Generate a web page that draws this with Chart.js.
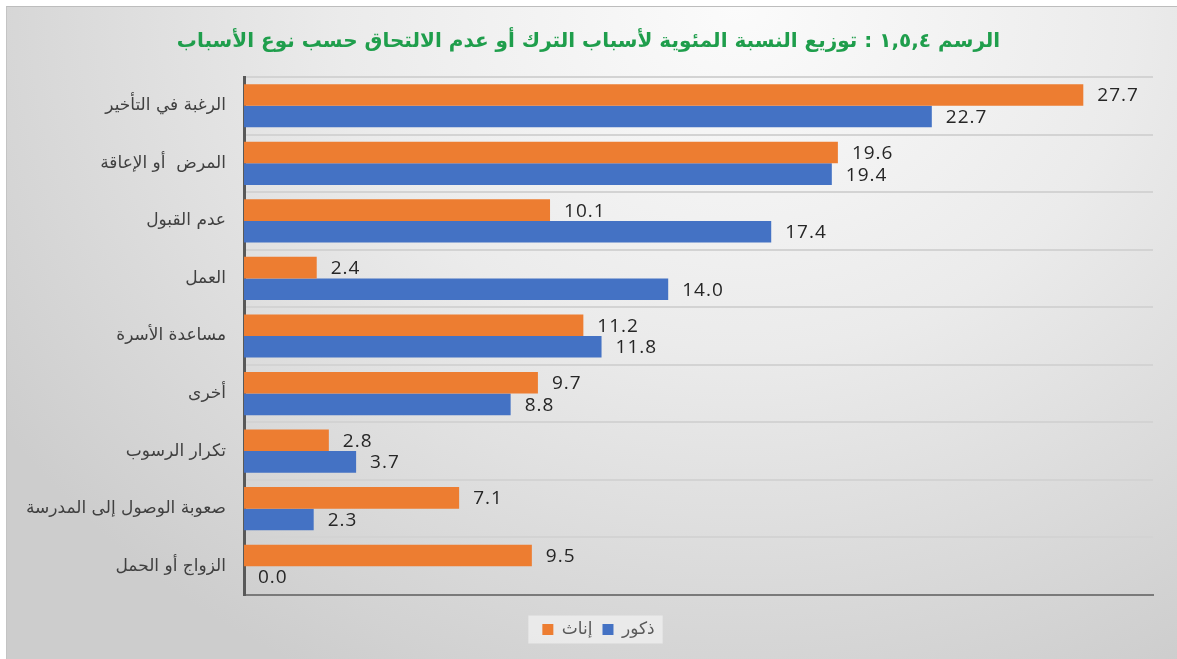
<!DOCTYPE html>
<html>
<head>
<meta charset="utf-8">
<script src="https://cdn.jsdelivr.net/npm/chart.js@4/dist/chart.umd.min.js"></script>
<style>
  html, body { margin:0; padding:0; background:#fff; width:1177px; height:659px; overflow:hidden; }
  #frame {
    position:absolute; left:6px; top:6px; width:1180px; height:660px;
    border-top:1px solid #bdbdbd; border-left:1px solid #c4c4c4;
    background: radial-gradient(ellipse 75% 115% at 62% 0%, #fbfbfb 0%, #ebebeb 45%, #cdcdcd 100%);
  }
  #chart { position:absolute; left:0; top:0; direction:rtl; }
</style>
</head>
<body>
<div id="frame"></div>
<canvas id="chart" width="1177" height="659"></canvas>
<script>
// chart data
const chartTitle = 'الرسم ١,٥,٤ : توزيع النسبة المئوية لأسباب الترك أو عدم الالتحاق حسب نوع الأسباب'
const reasons = [
  'الرغبة في التأخير',
  'المرض  أو الإعاقة',
  'عدم القبول',
  'العمل',
  'مساعدة الأسرة',
  'أخرى',
  'تكرار الرسوب',
  'صعوبة الوصول إلى المدرسة',
  'الزواج أو الحمل'
]
const females = [27.7, 19.6, 10.1, 2.4, 11.2, 9.7, 2.8, 7.1, 9.5]
const males   = [22.7, 19.4, 17.4, 14.0, 11.8, 8.8, 3.7, 2.3, 0.0]
const seriesNames = ['إناث', 'ذكور']
const axisMax = 30

// value labels next to bar ends
const valueLabels = {
  id:'valueLabels',
  afterDatasetsDraw(chart){
    const ctx = chart.ctx
    ctx.save()
    ctx.font = '19px "Open Sans"'
    ctx.fillStyle = '#262626'
    ctx.textBaseline = 'middle'
    ctx.textAlign = 'left'
    ctx.direction = 'ltr'
    try { ctx.letterSpacing = '1px' } catch(e) {}
    chart.data.datasets.forEach((ds, i) => {
      chart.getDatasetMeta(i).data.forEach((bar, j) => {
        ctx.fillText(ds.data[j].toFixed(1), bar.x + 14, bar.y + 1)
      })
    })
    ctx.restore()
  }
}

// legend sits a little right of centre in the original
const legendShift = {
  id:'legendShift',
  afterLayout(chart){
    if(!chart.legend) return
    chart.legend.left += 10
    chart.legend.right += 10
  }
}

// lighter box behind the legend
const legendBox = {
  id:'legendBox',
  beforeDraw(chart){
    const boxes = chart.legend && chart.legend.legendHitBoxes
    if(!boxes || !boxes.length) return
    const l = Math.min(...boxes.map(b => b.left)) - 14
    const r = Math.max(...boxes.map(b => b.left + b.width)) + 8
    const cy = boxes[0].top + boxes[0].height / 2
    const ctx = chart.ctx
    ctx.save()
    ctx.fillStyle = 'rgba(240,240,240,0.75)'
    ctx.fillRect(l, cy - 14, r - l, 28)
    ctx.restore()
  }
}

try {
  new Chart(document.getElementById('chart'), {
    type:'bar',
    data:{
      labels: reasons,
      datasets:[
        {label:seriesNames[0], data:females, backgroundColor:'#ED7D31', borderWidth:0, categoryPercentage:0.75, barPercentage:1.0},
        {label:seriesNames[1], data:males, backgroundColor:'#4472C4', borderWidth:0, categoryPercentage:0.75, barPercentage:1.0}
      ]
    },
    options:{
      indexAxis:'y',
      responsive:false,
      animation:false,
      layout:{padding:{left:24, right:24, top:0, bottom:11}},
      scales:{
        x:{
          min:0, max:axisMax,
          ticks:{display:false},
          grid:{display:false},
          border:{display:true, color:'#7a7a7a', width:2},
          afterFit(scale){ scale.height = 16 }
        },
        y:{
          ticks:{color:'#404040', font:{family:'"DejaVu Sans"', size:17}, padding:18},
          grid:{offset:true, color:'#d3d3d3', lineWidth:2, drawTicks:false},
          border:{display:true, color:'#595959', width:3},
          afterFit(scale){ scale.width = 220 }
        }
      },
      plugins:{
        title:{
          display:true, text:chartTitle, color:'#1f9e4c',
          font:{family:'"DejaVu Sans"', size:20, weight:'bold'},
          padding:{top:30, bottom:23}
        },
        legend:{
          position:'bottom',
          labels:{color:'#595959', font:{family:'"DejaVu Sans"', size:17}, boxWidth:11, boxHeight:11, padding:10}
        },
        tooltip:{enabled:false}
      }
    },
    plugins:[legendShift, legendBox, valueLabels]
  })
} catch(e) {
  console.error('Error drawing chart:', e)
}
</script>
</body>
</html>
